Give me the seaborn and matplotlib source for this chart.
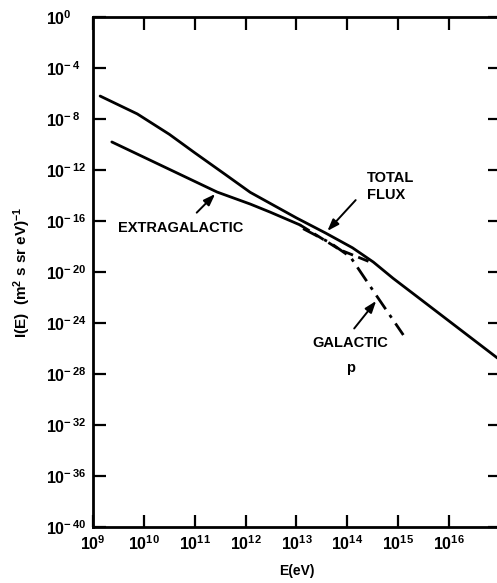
import numpy as np
import pandas as pd
import matplotlib
matplotlib.use("Agg")
import matplotlib.pyplot as plt
import seaborn as sns

# curve samples (log10 E [eV], log10 I)
total_logE = [9.14, 9.87, 10.5, 11.0, 11.6, 12.09, 13.0, 13.57, 14.1, 14.51, 14.9, 15.38, 16.95]
total_logI = [-6.20, -7.60, -9.20, -10.65, -12.35, -13.75, -15.76, -16.94, -18.10, -19.22, -20.50, -21.96, -26.75]

extra_logE = [9.37, 11.44, 12.09, 12.48, 13.07]
extra_logI = [-9.80, -13.73, -14.67, -15.30, -16.31]

extra_dash_logE = [13.07, 13.86, 14.45]
extra_dash_logI = [-16.31, -18.27, -19.22]

gal_logE = [13.13, 13.67, 14.06, 14.59, 15.10]
gal_logI = [-16.60, -17.73, -18.82, -21.96, -24.94]

xtick_exp = [9, 10, 11, 12, 13, 14, 15, 16]
ytick_exp = [0, -4, -8, -12, -16, -20, -24, -28, -32, -36, -40]


def to_frame(logE, logI):
    return pd.DataFrame({"E": 10.0 ** np.array(logE), "I": 10.0 ** np.array(logI)})


sns.set_style("ticks")
plt.rcParams["font.family"] = ["Liberation Sans", "DejaVu Sans"]
plt.rcParams["font.weight"] = "bold"
plt.rcParams["axes.labelweight"] = "bold"
plt.rcParams["mathtext.fontset"] = "custom"
plt.rcParams["mathtext.rm"] = "Liberation Sans:bold"
plt.rcParams["mathtext.it"] = "Liberation Sans:bold"
plt.rcParams["mathtext.bf"] = "Liberation Sans:bold"
plt.rcParams["mathtext.default"] = "rm"
plt.rcParams["text.color"] = "black"
plt.rcParams["axes.labelcolor"] = "black"

fig = plt.figure(figsize=(4.97, 5.83), dpi=100)
ax = fig.add_axes([93 / 497, 56 / 583, 407 / 497, 510 / 583])
ax.set_xscale("log")
ax.set_yscale("log")

lw = 2.0
sns.lineplot(data=to_frame(total_logE, total_logI), x="E", y="I", ax=ax,
             color="black", lw=lw, sort=False)
sns.lineplot(data=to_frame(extra_logE, extra_logI), x="E", y="I", ax=ax,
             color="black", lw=lw, sort=False)
sns.lineplot(data=to_frame(extra_dash_logE, extra_dash_logI), x="E", y="I", ax=ax,
             color="black", lw=lw, sort=False, linestyle=(0, (4, 2)))
sns.lineplot(data=to_frame(gal_logE, gal_logI), x="E", y="I", ax=ax,
             color="black", lw=lw, sort=False, linestyle=(0, (6, 2.5, 1.2, 2.5)))

ax.set_xlim(1e9, 1e17)
ax.set_ylim(1e-40, 1e0)
ax.set_xticks([10.0 ** e for e in xtick_exp])
ax.set_xticklabels([f"$10^{{{e}}}$" for e in xtick_exp])
ax.set_yticks([10.0 ** e for e in ytick_exp])
ax.set_yticklabels([f"$10^{{{e}}}$" if e == 0 else f"$10^{{-\\,{-e}}}$" for e in ytick_exp])
ax.minorticks_off()
ax.tick_params(axis="both", which="major", direction="in", length=9, width=1.6,
               top=True, right=True, labelsize=11.5, colors="black")
# left-aligned y tick labels, as in the original print
ax.tick_params(axis="y", pad=34)
for lab in ax.get_yticklabels():
    lab.set_horizontalalignment("left")
ax.tick_params(axis="x", pad=5)
for s in ax.spines.values():
    s.set_linewidth(2.0)
    s.set_color("black")

ax.set_xlabel("E(eV)", fontsize=10, labelpad=8)
ax.set_ylabel("I(E)  (m$^2$ s sr eV)$^{-1}$", fontsize=11, labelpad=9)

arrow = dict(arrowstyle="-|>,head_length=0.7,head_width=0.25", color="black", lw=1.4)
ax.annotate("", xy=(10 ** 13.57, 10 ** -16.94), xytext=(10 ** 14.2, 10 ** -14.2),
            arrowprops=arrow)
ax.text(10 ** 14.38, 10 ** -13.3, "TOTAL\nFLUX", fontsize=10.5, ha="left", va="center",
        linespacing=1.3)
ax.annotate("", xy=(10 ** 11.44, 10 ** -13.73), xytext=(10 ** 11.0, 10 ** -15.5),
            arrowprops=arrow)
ax.text(10 ** 9.5, 10 ** -16.55, "EXTRAGALACTIC", fontsize=10.5, ha="left", va="center")
ax.annotate("", xy=(10 ** 14.6, 10 ** -22.1), xytext=(10 ** 14.1, 10 ** -24.6),
            arrowprops=arrow)
ax.text(10 ** 14.06, 10 ** -25.6, "GALACTIC", fontsize=10.5, ha="center", va="center")
ax.text(10 ** 14.06, 10 ** -27.5, "p", fontsize=10.5, ha="center", va="center")

fig.savefig("out.png", dpi=100)
